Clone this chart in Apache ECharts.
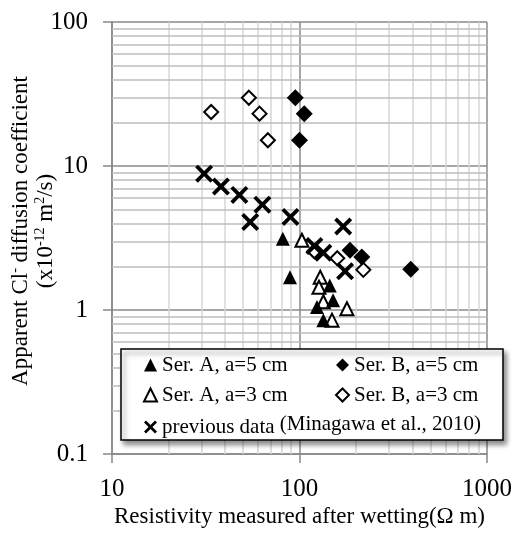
<!DOCTYPE html>
<html>
<head>
<meta charset="utf-8">
<script src="https://cdn.jsdelivr.net/npm/echarts@6.0.0/dist/echarts.min.js"></script>
<style>
    html, body { margin: 0; padding: 0; background: #fff; }
    #chart { width: 514px; height: 533px; }
</style>
</head>
<body>
<div id="chart"></div>
<script>
// [resistivity (Ω m), diffusion coefficient (x10^-12 m2/s)]
const serA5 = [[81.5, 3.13], [89, 1.69], [145, 1.48], [151, 1.17], [124, 1.05], [134, 0.85]];
const serA3 = [[103, 3.05], [129, 1.69], [127, 1.44], [134, 1.14], [179, 1.02], [149, 0.85]];
const serB5 = [[95, 29.8], [106, 23.1], [100, 15.1], [186, 2.6], [215, 2.33], [392, 1.92]];
const serB3 = [[33.8, 23.7], [53.7, 29.8], [61.2, 23.1], [67.8, 15.1], [120, 2.56], [159, 2.29], [219, 1.9]];
const prevData = [[31, 8.85], [38.1, 7.2], [47.8, 6.3], [63.4, 5.39], [54.6, 4.08], [89.5, 4.43],
    [171, 3.8], [120, 2.78], [134, 2.5], [175, 1.86]];

// minor grid positions of the log axes
const xMinor = [20, 30, 40, 50, 60, 70, 80, 90, 200, 300, 400, 500, 600, 700, 800, 900];
const yMinor = [0.2, 0.3, 0.4, 0.5, 0.6, 0.7, 0.8, 0.9, 2, 3, 4, 5, 6, 7, 8, 9, 20, 30, 40, 50, 60, 70, 80, 90];

const FONT = "Liberation Serif";
const CROSS = "path://M0,3 L3,0 L10,7 L17,0 L20,3 L13,10 L20,17 L17,20 L10,13 L3,20 L0,17 L7,10 Z";

let chart = echarts.init(document.getElementById("chart"));

function gridSeries(axis, values, color) {
    return {
        type: "scatter",
        data: [],
        silent: true,
        z: 1,
        markLine: {
            z: 1,
            silent: true,
            symbol: "none",
            animation: false,
            label: { show: false },
            lineStyle: { color: color, width: 1.5, type: "solid" },
            emphasis: { disabled: true },
            data: values.map(function (v) {
                let o = {};
                o[axis] = v;
                return o;
            }),
        },
    };
}

chart.setOption({
    animation: false,
    grid: {
        left: 112,
        right: 27,
        top: 22,
        bottom: 79,
        outerBoundsMode: "none",
    },
    xAxis: {
        type: "log",
        logBase: 10,
        min: 10,
        max: 1000,
        name: "Resistivity measured after wetting(\u03a9 m)",
        nameLocation: "middle",
        nameGap: 51,
        nameMoveOverlap: false,
        nameTextStyle: { fontFamily: FONT, fontSize: 23, color: "#000" },
        axisLine: { lineStyle: { color: "#888", width: 1.5 } },
        axisTick: { show: true, length: 9, lineStyle: { color: "#888", width: 1.5 } },
        axisLabel: {
            fontFamily: FONT,
            fontSize: 25,
            color: "#000",
            margin: 23,
            formatter: function (v) {
                return String(v);
            },
        },
        splitLine: { show: true, lineStyle: { color: "#8a8a8a", width: 1.5 } },
    },
    yAxis: {
        type: "log",
        logBase: 10,
        min: 0.1,
        max: 100,
        name: "{t|Apparent Cl}{s|-}{t| diffusion coefficient}\n{t|(x10}{s|-12}{t| m}{s|2}{t|/s)}",
        nameLocation: "middle",
        nameGap: 54,
        nameRotate: 90,
        nameMoveOverlap: false,
        nameTextStyle: {
            fontFamily: FONT,
            color: "#000",
            padding: [0, 0, 0, 14],
            rich: {
                t: { fontFamily: FONT, fontSize: 23, lineHeight: 25, color: "#000" },
                s: { fontFamily: FONT, fontSize: 14, lineHeight: 25, color: "#000", padding: [0, 0, 10, 0] },
            },
        },
        axisLine: { lineStyle: { color: "#888", width: 1.5 } },
        axisTick: { show: true, length: 9, lineStyle: { color: "#888", width: 1.5 } },
        axisLabel: {
            fontFamily: FONT,
            fontSize: 25,
            color: "#000",
            margin: 24,
            formatter: function (v) {
                return String(v);
            },
        },
        splitLine: { show: true, lineStyle: { color: "#8a8a8a", width: 1.5 } },
    },
    legend: [
        {
            data: ["Ser. A, a=5 cm", "Ser. A, a=3 cm", "previous data"],
            orient: "vertical",
            left: 143,
            top: 354,
            padding: 0,
            itemGap: 8,
            itemWidth: 13,
            itemHeight: 13,
            z: 20,
            selectedMode: false,
            textStyle: {
                fontFamily: FONT,
                fontSize: 21,
                lineHeight: 22,
                color: "#000",
                rich: {
                    a: { fontFamily: FONT, fontSize: 21, color: "#000" },
                    b: { fontFamily: FONT, fontSize: 21, color: "#000", padding: [0, 0, 5, 0] },
                },
            },
            formatter: function (name) {
                if (name === "previous data") {
                    return "{a|previous data} {b|(Minagawa et al., 2010)}";
                }
                return name;
            },
        },
        {
            data: ["Ser. B, a=5 cm", "Ser. B, a=3 cm"],
            orient: "vertical",
            left: 335,
            top: 354,
            padding: 0,
            itemGap: 8,
            itemWidth: 13,
            itemHeight: 13,
            z: 20,
            selectedMode: false,
            textStyle: { fontFamily: FONT, fontSize: 21, lineHeight: 22, color: "#000" },
        },
    ],
    graphic: [
        {
            type: "rect",
            z: 15,
            shape: { x: 121, y: 349, width: 382, height: 91 },
            style: {
                fill: "#fff",
                stroke: "#000",
                lineWidth: 1.5,
                shadowBlur: 5,
                shadowOffsetX: 3,
                shadowOffsetY: 4,
                shadowColor: "rgba(0,0,0,0.45)",
            },
        },
    ],
    series: [
        gridSeries("xAxis", xMinor, "#d6d6d6"),
        gridSeries("yAxis", yMinor, "#bdbdbd"),
        {
            name: "Ser. B, a=3 cm",
            type: "scatter",
            data: serB3,
            symbol: "diamond",
            symbolSize: 14,
            z: 3,
            itemStyle: { color: "#fff", borderColor: "#000", borderWidth: 2, opacity: 1 },
        },
        {
            name: "Ser. B, a=5 cm",
            type: "scatter",
            data: serB5,
            symbol: "diamond",
            symbolSize: 17,
            z: 3,
            itemStyle: { color: "#000", opacity: 1 },
        },
        {
            name: "previous data",
            type: "scatter",
            data: prevData,
            symbol: CROSS,
            symbolSize: 18,
            z: 4,
            itemStyle: { color: "#000", opacity: 1 },
        },
        {
            name: "Ser. A, a=3 cm",
            type: "scatter",
            data: serA3,
            symbol: "triangle",
            symbolSize: [13, 13],
            z: 5,
            itemStyle: { color: "#fff", borderColor: "#000", borderWidth: 2, opacity: 1 },
        },
        {
            name: "Ser. A, a=5 cm",
            type: "scatter",
            data: serA5,
            symbol: "triangle",
            symbolSize: [14, 14],
            z: 5,
            itemStyle: { color: "#000", opacity: 1 },
        },
    ],
});

window.addEventListener("resize", function () {
    chart.resize();
});
</script>
</body>
</html>
